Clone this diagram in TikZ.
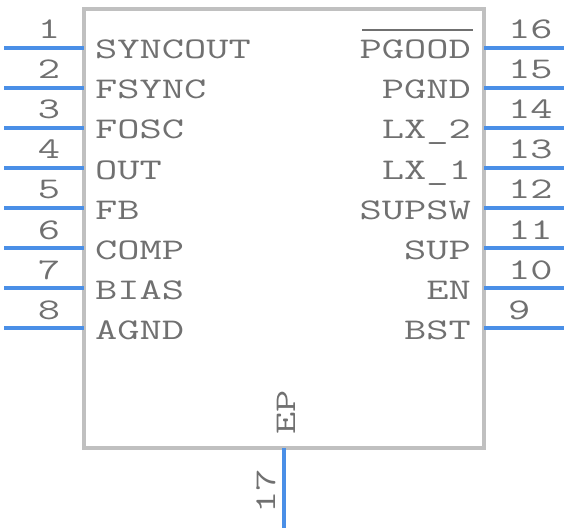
\documentclass[tikz,border=0pt]{standalone}
\usepackage{fontspec}
\newfontfamily\pinfont[FakeStretch=1.44]{Latin Modern Mono}
\definecolor{txtgray}{RGB}{112,112,112}
\definecolor{pinblue}{RGB}{74,143,231}
\definecolor{bodygray}{RGB}{192,192,192}
\begin{document}
\begin{tikzpicture}[x=1pt,y=-1pt,
  body/.style={draw=bodygray,line width=4pt},
  pinline/.style={draw=pinblue,line width=3.5pt},
  lbl/.style={inner sep=0pt,text=txtgray,font=\pinfont\fontsize{30}{30}\selectfont},
  num/.style={inner sep=0pt,text=txtgray,font=\pinfont\fontsize{30}{30}\selectfont},
  bar/.style={draw=txtgray,line width=2pt}]
\useasboundingbox (0,0) rectangle (568,532);
\draw[body] (84,9) rectangle (484,448);
\foreach \n/\lab [count=\i] in {1/SYNCOUT,2/FSYNC,3/FOSC,4/OUT,5/FB,6/COMP,7/BIAS,8/AGND}{
  \pgfmathsetmacro\yy{8+40*\i}
  \coordinate (Lo\n) at (4,\yy);
  \coordinate (Li\n) at (84,\yy);
  \draw[pinline] (Lo\n) -- (Li\n);
  \node[lbl,anchor=base west] (t\n) at (95,\yy+11) {\lab};
  \node[num,anchor=base] (n\n) at (49,\yy-9) {\n};
}
\foreach \n/\lab [count=\i] in {16/PGOOD,15/PGND,14/LX\_2,13/LX\_1,12/SUPSW,11/SUP,10/EN,9/BST}{
  \pgfmathsetmacro\yy{8+40*\i}
  \coordinate (Ro\n) at (564,\yy);
  \coordinate (Ri\n) at (484,\yy);
  \draw[pinline] (Ri\n) -- (Ro\n);
  \node[lbl,anchor=base east] (t\n) at (471,\yy+11) {\lab};
  \node[num,anchor=base west] (n\n) at (508,\yy-9) {\n};
}
\draw[bar] (362,30) -- (473,30);
\coordinate (Bi17) at (284,448);
\coordinate (Bo17) at (284,528);
\draw[pinline] (Bi17) -- (Bo17);
\node[lbl,rotate=90,anchor=base west] (tEP) at (295,435) {EP};
\node[num,rotate=90,anchor=base west] (n17) at (275,514) {17};
\end{tikzpicture}
\end{document}
